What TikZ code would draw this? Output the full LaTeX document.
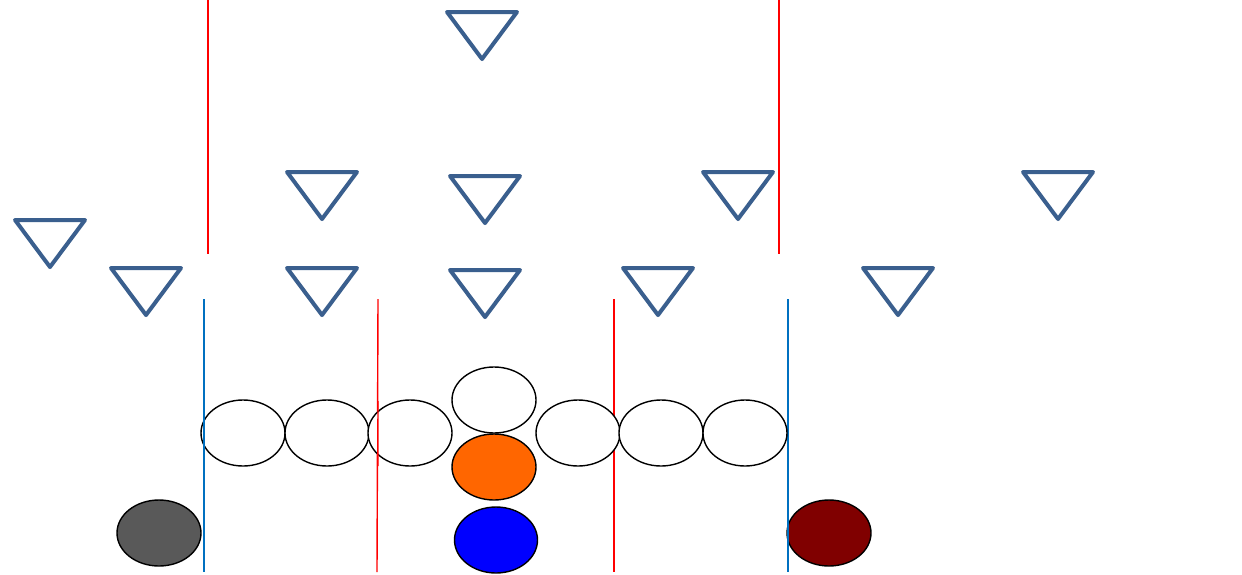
\documentclass[tikz,border=0pt]{standalone}
\usetikzlibrary{shapes.geometric}
\definecolor{tri}{HTML}{3A5F8E}
\definecolor{lblue}{HTML}{0070C0}
\definecolor{orng}{HTML}{FF6600}
\definecolor{gry}{HTML}{595959}
\definecolor{dred}{HTML}{800000}
\tikzset{
  defender/.style={draw=tri, line width=4pt, line join=round, line cap=round},
  player/.style={ellipse, draw=black, line width=1.4pt, minimum width=84pt, minimum height=66pt, inner sep=0pt, fill=white},
  redline/.style={draw=red, line width=1.4pt},
  blueline/.style={draw=lblue, line width=1.6pt},
}
\newcommand{\deftri}[2]{\draw[defender] (#1,#2) -- ++(70,0) -- ++(-35,47) -- cycle;}
\begin{document}
\begin{tikzpicture}[x=1pt,y=-1pt]
\useasboundingbox (0,0) rectangle (1242,574);
% vertical lines
\draw[redline] (208,0) -- (208,254);
\draw[redline] (779,0) -- (779,254);
\draw[blueline] (204,299) -- (204,572);
\draw[redline] (378,299) -- (377,572);
\draw[redline] (614,299) -- (614,572);
\draw[blueline] (788,299) -- (788,572);
% defenders
\deftri{447}{12}
\deftri{287}{172}
\deftri{450}{176}
\deftri{703}{172}
\deftri{1023}{172}
\deftri{15}{220}
\deftri{111}{268}
\deftri{287}{268}
\deftri{450}{270}
\deftri{623}{268}
\deftri{863}{268}
% offensive line
\node[player] (l1) at (243,433) {};
\node[player] (l2) at (327,433) {};
\node[player] (l3) at (410,433) {};
\node[player] (r1) at (578,433) {};
\node[player] (r2) at (661,433) {};
\node[player] (r3) at (745,433) {};
\node[player] (c) at (494,400) {};
\node[player, fill=orng] (qb) at (494,467) {};
\node[player, fill=blue, minimum width=83pt] (rb) at (496,540) {};
\node[player, fill=gry] (wl) at (159,533) {};
\node[player, fill=dred] (wr) at (829,533) {};
% redraw the blue line over the right receiver edge
\draw[blueline] (788,500) -- (788,572);
\draw[blueline] (204,400) -- (204,466);
\draw[redline] (378,401) -- (377.8,466);
\end{tikzpicture}
\end{document}
